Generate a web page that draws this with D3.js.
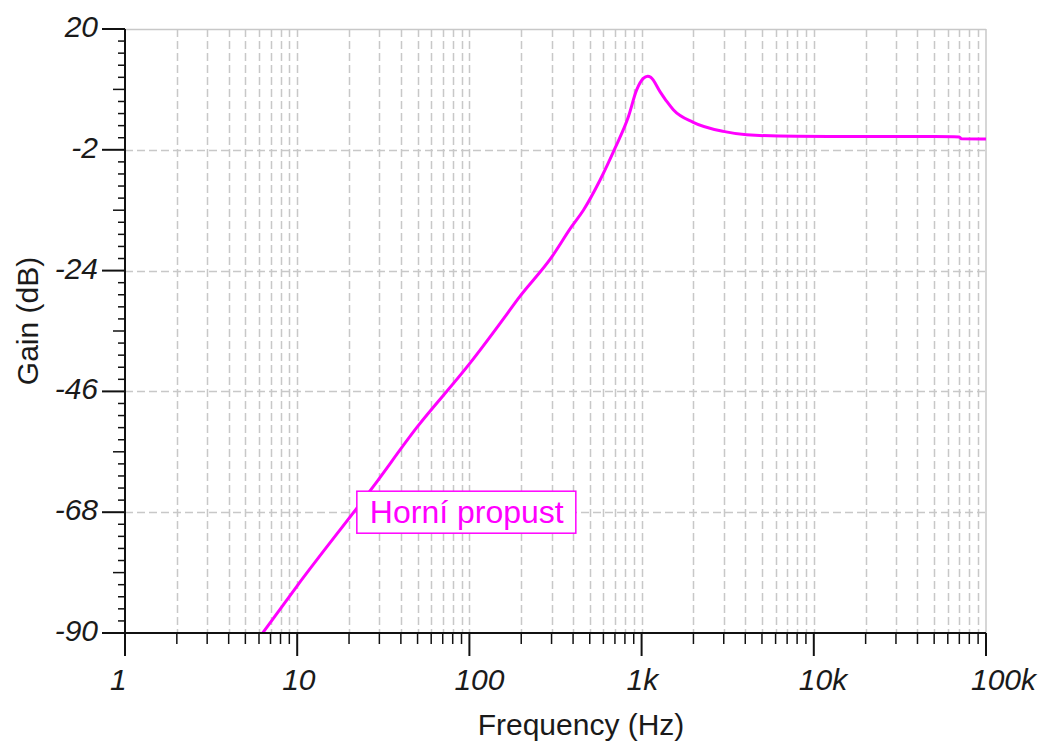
<!DOCTYPE html>
<html>
<head>
<meta charset="utf-8">
<script src="https://cdn.jsdelivr.net/npm/d3@7"></script>
<style>
  body { margin: 0; background: #fff; }
  svg { display: block; }
  text { font-family: "Liberation Sans", Arial, sans-serif; fill: #1a1a1a; }
  .tick-label { font-size: 30px; font-style: italic; }
  .axis-title { font-size: 30px; }
</style>
</head>
<body>
<div id="chart"></div>
<script>
// Frequency response
const freqHz = [6.3, 10, 27.7, 49.4, 100, 168, 191, 301, 392, 459, 574, 701, 838, 936, 1023, 1085, 1130, 1279, 1400, 1528, 1995, 2980, 4070, 7940, 50000, 70000, 72000, 100000];
const gainDb = [-90, -81.4, -63.3, -52.6, -41.0, -31.6, -29.2, -21.5, -16, -13, -7.5, -1.7, 4.0, 8.9, 11.0, 11.4, 11.2, 8.6, 6.8, 5.3, 3.0, 1.35, 0.75, 0.45, 0.4, 0.35, 0.0, -0.03];

const xMajorTicks = [1, 10, 100, 1000, 10000, 100000];
const xTickLabels = ['1', '10', '100', '1k', '10k', '100k'];
const yMajorTicks = [20, -2, -24, -46, -68, -90];
const yMinorStep = 2.2;

const seriesLabel = 'Horní propust';
const labelAnchor = { freq: 22.2, gain: -68 };

const width = 1046, height = 744;
const plot = { left: 125, right: 986, top: 29, bottom: 633 };

const svg = d3.select('#chart').append('svg')
  .attr('width', width)
  .attr('height', height);

const x = d3.scaleLog().domain([1, 100000]).range([plot.left, plot.right]);
const y = d3.scaleLinear().domain([-90, 20]).range([plot.bottom, plot.top]);

// minor frequencies 2..9 per decade
const xMinorTicks = [];
xMajorTicks.slice(0, -1).forEach(d => {
  for (let k = 2; k <= 9; k++) xMinorTicks.push(d * k);
});
const yMinorTicks = d3.range(-90, 20.001, yMinorStep);

const gridColor = '#c8c8c8';

// Grid
const grid = svg.append('g');
grid.selectAll('.vgrid')
  .data(xMinorTicks.concat(xMajorTicks.slice(1, -1)))
  .enter().append('line')
  .attr('x1', d => Math.round(x(d)) + 0.5)
  .attr('x2', d => Math.round(x(d)) + 0.5)
  .attr('y1', plot.top)
  .attr('y2', plot.bottom)
  .attr('stroke', gridColor)
  .attr('stroke-width', 1.5)
  .attr('stroke-dasharray', '8,4');

grid.selectAll('.hgrid')
  .data(yMajorTicks.slice(1, -1))
  .enter().append('line')
  .attr('x1', plot.left)
  .attr('x2', plot.right)
  .attr('y1', d => Math.round(y(d)) + 0.5)
  .attr('y2', d => Math.round(y(d)) + 0.5)
  .attr('stroke', gridColor)
  .attr('stroke-width', 1.5)
  .attr('stroke-dasharray', '8,4');

// top & right frame
grid.append('line')
  .attr('x1', plot.left).attr('x2', plot.right)
  .attr('y1', y(20) + 0.5).attr('y2', y(20) + 0.5)
  .attr('stroke', gridColor).attr('stroke-width', 1.5);
grid.append('line')
  .attr('x1', x(100000)).attr('x2', x(100000))
  .attr('y1', plot.top).attr('y2', plot.bottom)
  .attr('stroke', gridColor).attr('stroke-width', 1.5);

// Curve
svg.append('clipPath').attr('id', 'clip')
  .append('rect')
  .attr('x', plot.left).attr('y', plot.top)
  .attr('width', plot.right - plot.left).attr('height', plot.bottom - plot.top);

const line = d3.line()
  .x((d, i) => x(freqHz[i]))
  .y(d => y(d))
  .curve(d3.curveMonotoneX);

svg.append('path')
  .datum(gainDb)
  .attr('clip-path', 'url(#clip)')
  .attr('d', line)
  .attr('fill', 'none')
  .attr('stroke', '#ff00ff')
  .attr('stroke-width', 3)
  .attr('stroke-linejoin', 'round');

// Axes
const axes = svg.append('g').attr('stroke', '#111');

axes.append('line')
  .attr('x1', plot.left).attr('x2', plot.left)
  .attr('y1', plot.top).attr('y2', plot.bottom + 23)
  .attr('stroke-width', 2);
axes.append('line')
  .attr('x1', plot.left - 23).attr('x2', plot.right)
  .attr('y1', plot.bottom).attr('y2', plot.bottom)
  .attr('stroke-width', 2);

// y ticks (left side)
axes.selectAll('.ytick')
  .data(yMinorTicks)
  .enter().append('line')
  .attr('x1', (d, i) => {
    if (i % 10 === 0) return plot.left - 23;
    if (i % 5 === 0) return plot.left - 12;
    return plot.left - 7;
  })
  .attr('x2', plot.left)
  .attr('y1', d => y(d))
  .attr('y2', d => y(d))
  .attr('stroke-width', (d, i) => i % 10 === 0 ? 2 : 1.5);

// x ticks (downward)
axes.selectAll('.xminor')
  .data(xMinorTicks)
  .enter().append('line')
  .attr('x1', d => x(d)).attr('x2', d => x(d))
  .attr('y1', plot.bottom).attr('y2', plot.bottom + 11)
  .attr('stroke-width', 1.5);
axes.selectAll('.xmajor')
  .data(xMajorTicks)
  .enter().append('line')
  .attr('x1', d => x(d)).attr('x2', d => x(d))
  .attr('y1', plot.bottom).attr('y2', plot.bottom + 23)
  .attr('stroke-width', 2);

// Tick labels
svg.selectAll('.ylabel')
  .data(yMajorTicks)
  .enter().append('text')
  .attr('class', 'tick-label')
  .attr('x', plot.left - 27)
  .attr('y', d => y(d) + 8)
  .attr('text-anchor', 'end')
  .text(d => d);

svg.selectAll('.xlabel')
  .data(xMajorTicks)
  .enter().append('text')
  .attr('class', 'tick-label')
  .attr('x', d => x(d) - 15)
  .attr('y', plot.bottom + 57)
  .attr('text-anchor', 'start')
  .text((d, i) => xTickLabels[i]);

// Axis titles
svg.append('text')
  .attr('class', 'axis-title')
  .attr('x', 581)
  .attr('y', 735)
  .attr('text-anchor', 'middle')
  .text('Frequency (Hz)');

svg.append('text')
  .attr('class', 'axis-title')
  .attr('transform', 'translate(38,321) rotate(-90)')
  .attr('text-anchor', 'middle')
  .text('Gain (dB)');

// Series label box
const lbl = svg.append('g')
  .attr('transform', `translate(${x(labelAnchor.freq)},${y(labelAnchor.gain)})`);
const lblRect = lbl.append('rect')
  .attr('fill', '#fff')
  .attr('stroke', '#ff00ff')
  .attr('stroke-width', 1.5);
const lblText = lbl.append('text')
  .attr('x', 13)
  .attr('y', 11)
  .style('font-size', '32px')
  .style('fill', '#ff00ff')
  .text(seriesLabel);
const bb = lblText.node().getBBox();
lblRect
  .attr('x', 0)
  .attr('y', -21)
  .attr('width', bb.width + 25)
  .attr('height', 42);
</script>
</body>
</html>
